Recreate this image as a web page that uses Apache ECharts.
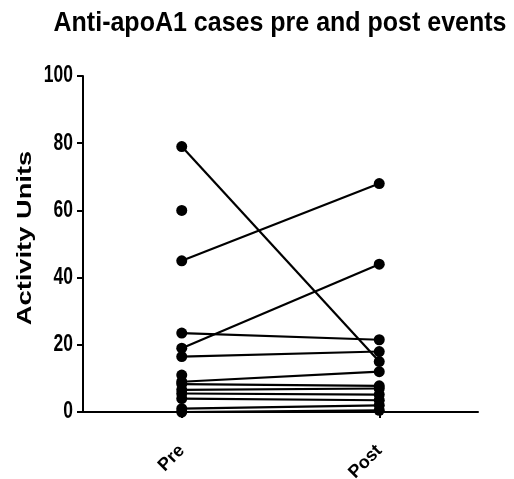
<!DOCTYPE html>
<html>
<head>
<meta charset="utf-8">
<script src="https://cdn.jsdelivr.net/npm/echarts@6/dist/echarts.min.js"></script>
<style>
html,body{margin:0;padding:0;background:#fff;}
#chart{width:514px;height:479px;}
</style>
</head>
<body>
<div id="chart"></div>
<script>
var categories = ['Pre', 'Post'];
var preValues  = [79, 60, 45, 23.5, 19, 16.5, 11, 9, 8.3, 6.6, 5.5, 4, 1, 0];
var postValues = [15, null, 68, 21.5, 44, 18, null, 12, 7.8, 7, 5.2, 3.5, 2, 0.5];
var yTicks = [0, 20, 40, 60, 80, 100];
var yAxisTitle = 'Activity Units';
var chartTitle = 'Anti-apoA1 cases pre and post events';

var series = preValues.map(function (p, i) {
  return {
    type: 'line',
    data: [p, postValues[i]],
    symbol: 'circle',
    symbolSize: 11,
    showSymbol: true,
    connectNulls: false,
    lineStyle: { color: '#000', width: 2.2 },
    itemStyle: { color: '#000' },
    emphasis: { disabled: true },
    animation: false
  };
});

var chart = echarts.init(document.getElementById('chart'));
chart.setOption({
  backgroundColor: '#fff',
  animation: false,
  grid: { left: 83, right: 36, top: 76, bottom: 67, containLabel: false, outerBoundsMode: 'none' },
  xAxis: {
    type: 'category',
    data: categories,
    boundaryGap: true,
    axisLine: { show: true, lineStyle: { color: '#000', width: 2 } },
    axisTick: { show: true, alignWithLabel: true, length: 6, lineStyle: { color: '#000', width: 2 } },
    axisLabel: {
      rotate: 45, margin: 36, color: '#000',
      fontFamily: 'Liberation Sans, Arial, sans-serif', fontWeight: 'bold', fontSize: 18
    },
    splitLine: { show: false }
  },
  yAxis: {
    type: 'value',
    min: yTicks[0], max: yTicks[yTicks.length - 1], interval: 20,
    axisLine: { show: true, lineStyle: { color: '#000', width: 2 } },
    axisTick: { show: true, length: 6, lineStyle: { color: '#000', width: 2 } },
    axisLabel: { show: false },
    splitLine: { show: false }
  },
  series: series
});

// Title, tick labels and axis title drawn as text; tick labels positioned through the axis scale
var graphics = yTicks.map(function (v) {
  var py = chart.convertToPixel({ yAxisIndex: 0 }, v);
  return {
    type: 'text',
    x: 73, y: py,
    scaleX: 0.76,
    silent: true,
    style: {
      text: String(v), fill: '#000', align: 'right', verticalAlign: 'middle',
      font: 'bold 23px "Liberation Sans", Arial, sans-serif'
    }
  };
});
var midY = (chart.convertToPixel({ yAxisIndex: 0 }, yTicks[0]) + chart.convertToPixel({ yAxisIndex: 0 }, yTicks[yTicks.length - 1])) / 2;
graphics.push({
  type: 'text',
  x: 25, y: midY - 6,
  rotation: Math.PI / 2,
  scaleX: 1.3,
  silent: true,
  style: {
    text: yAxisTitle, fill: '#000', align: 'center', verticalAlign: 'middle',
    font: 'bold 21px "Liberation Sans", Arial, sans-serif'
  }
});
graphics.push({
  type: 'text',
  x: 280, y: 24,
  scaleY: 1.08,
  silent: true,
  style: {
    text: chartTitle, fill: '#000', align: 'center', verticalAlign: 'middle',
    font: 'bold 25px "Liberation Sans", Arial, sans-serif'
  }
});
chart.setOption({ graphic: graphics });
</script>
</body>
</html>
